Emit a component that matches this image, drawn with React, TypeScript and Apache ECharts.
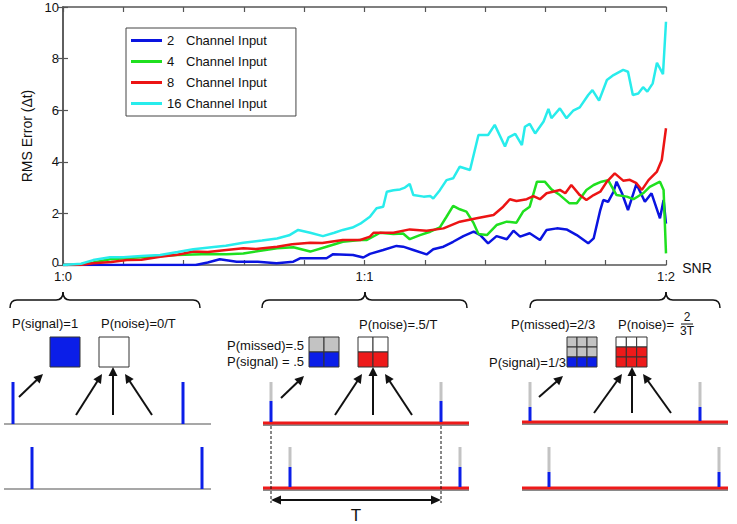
import React, { useEffect, useRef } from 'react';
import * as echarts from 'echarts';

const FONT = 'Liberation Sans, Arial, Helvetica, sans-serif';

// SNR axis: 0..100 maps 1:0 .. 1:2
const snrTickValues = [0, 50, 100];
const snrTickLabels = ['1:0', '1:1', '1:2'];
const channelCounts = ['2', '4', '8', '16'];
const seriesColors = ['#0a14e0', '#1fe01f', '#ec1414', '#28ecec'];

const ch2: number[][] = [[0,0],[22,0],[24,0.1],[26,0.22],[28.8,0.13],[32.3,0.13],[35.4,0.07],[38.2,0.13],[39.3,0.26],[43.7,0.26],[44.8,0.42],[48.1,0.39],[49.8,0.29],[50.9,0.43],[53.1,0.58],[55.3,0.74],[56.4,0.71],[58.1,0.58],[60.3,0.41],[61.4,0.61],[63.1,0.71],[64.7,0.9],[66.4,1.12],[68.1,1.29],[69.2,1.16],[70.5,0.84],[71.9,1.12],[73.6,1.0],[74.7,1.33],[75.8,1.1],[77.4,1.23],[79.1,0.97],[80.2,1.36],[81.9,1.42],[83.5,1.38],[85.2,1.16],[87.1,0.84],[88,1.03],[89.1,2.13],[89.6,2.52],[90.4,2.45],[91.3,2.84],[91.8,3.23],[92.7,2.78],[93.7,2.13],[95.1,3.14],[96.5,2.45],[97.6,2.78],[99,1.81],[99.6,2.52],[100,1.6]];

const ch4: number[][] = [[0,0],[2,0],[5,0.1],[7.8,0.22],[13,0.3],[18.8,0.39],[24.4,0.43],[27.1,0.42],[29.9,0.45],[35.5,0.65],[38.2,0.69],[41,0.52],[43.7,0.71],[46.4,0.9],[49.3,0.97],[50.4,0.97],[52.6,1.25],[54.8,1.2],[56.4,1.22],[57.5,1.0],[59.2,1.16],[60.9,1.29],[62.5,1.46],[63.6,1.87],[64.7,2.29],[65.8,2.16],[66.9,2.07],[68.1,1.62],[68.9,1.2],[70.3,1.16],[71.9,1.55],[73.6,1.68],[75.2,1.64],[76.3,2.07],[77.4,2.26],[78.6,3.23],[79.9,3.23],[81,2.93],[82.4,2.71],[84,2.39],[85.2,2.39],[86.8,2.91],[88,3.1],[89.3,3.23],[90.4,3.29],[91.8,2.71],[93.5,2.65],[94.6,2.55],[96.2,2.78],[97.3,3.03],[99,3.23],[99.6,2.91],[100,0.45]];

const ch8: number[][] = [[0,0],[2.8,0],[5,0.07],[8,0.12],[10.6,0.19],[13,0.2],[16.1,0.32],[19,0.4],[21.6,0.52],[24,0.5],[27.1,0.58],[29.9,0.65],[32,0.62],[35.5,0.71],[38,0.8],[41,0.86],[43,0.85],[46.4,0.97],[49.3,0.97],[50.9,1.1],[51.5,1.25],[54.8,1.25],[57.5,1.38],[60.3,1.33],[63.1,1.42],[65.8,1.68],[68.6,1.81],[71.4,1.94],[73,2.26],[74.1,2.55],[75.2,2.48],[76.9,2.55],[78,2.67],[79.1,2.55],[80.2,2.78],[82.4,2.91],[83.3,2.78],[84.3,3.1],[85.7,2.71],[86.8,2.52],[88,2.71],[89.1,2.84],[90.2,3.23],[91.5,3.55],[92.9,3.27],[94,3.3],[95.1,3.17],[96,2.91],[97.1,3.29],[98.5,3.62],[99.3,4.07],[100,5.3]];

const ch16: number[][] = [[0,0],[3,0.05],[5,0.19],[7.8,0.3],[10,0.3],[13,0.35],[16.1,0.39],[19,0.5],[21.6,0.61],[25,0.7],[27,0.75],[29.9,0.86],[33,0.95],[35.5,1.03],[37.5,1.15],[39,1.36],[41,1.25],[43.1,1.12],[45,1.25],[46.4,1.36],[48,1.45],[49.3,1.6],[50.9,1.87],[52,2.2],[53.1,2.26],[53.7,2.84],[54.8,2.9],[55.9,2.93],[56.7,3.0],[57.5,3.14],[58.1,2.71],[59.8,2.65],[60.9,2.67],[61.4,2.58],[62.5,2.9],[63.6,3.29],[64.7,3.36],[65.8,3.81],[67.5,3.68],[68.9,5.04],[70.5,5.04],[71.6,5.43],[73.3,4.59],[73.9,4.95],[75,5.08],[76.1,4.65],[76.6,5.36],[77.4,5.47],[78.3,5.1],[79.7,5.56],[80.5,6.05],[81,5.69],[82.4,6.07],[83.5,5.69],[84.6,5.98],[85.7,6.11],[87.1,6.59],[87.8,6.78],[88.9,6.37],[90.2,7.17],[91.3,7.36],[92.9,7.56],[93.7,7.49],[94.5,6.59],[95.4,6.65],[96.2,6.89],[96.9,6.72],[97.8,7.04],[98.5,7.84],[99.5,7.4],[100,9.43]];

const seriesData = [ch2, ch4, ch8, ch16];

const BLUE = '#0b1ee8';
const RED = '#ee1a1a';
const GRAY = '#c3c3c3';
const BASE = '#8a8a8a';
const INK = '#111';

function txt(text: string, x: number, y: number, align = 'left', size = 13): any {
  return {
    type: 'text', x, y, silent: true,
    style: { text, fontSize: size, fontFamily: FONT, fill: INK, align, verticalAlign: 'middle', textAlign: align, textVerticalAlign: 'middle' },
  };
}
function ln(x1: number, y1: number, x2: number, y2: number, stroke = INK, lineWidth = 2, dash?: number[]): any {
  return { type: 'line', silent: true, shape: { x1, y1, x2, y2 }, style: { stroke, lineWidth, lineDash: dash } };
}
function rect(x: number, y: number, w: number, h: number, fill: string, stroke?: string, lw = 1): any {
  return { type: 'rect', silent: true, shape: { x, y, width: w, height: h }, style: { fill, stroke: stroke || null, lineWidth: lw } };
}
function head(x1: number, y1: number, x2: number, y2: number, len = 9, half = 4.5): any[] {
  const dx = x2 - x1, dy = y2 - y1, L = Math.hypot(dx, dy);
  const ux = dx / L, uy = dy / L;
  const bx = x2 - ux * len, by = y2 - uy * len;
  const px = -uy, py = ux;
  return [
    ln(x1, y1, bx + ux, by + uy, INK, 2),
    { type: 'polygon', silent: true, shape: { points: [[x2, y2], [bx + px * half, by + py * half], [bx - px * half, by - py * half]] }, style: { fill: INK } },
  ];
}
function brace(x1: number, x2: number, xc: number, yPeak = 292, yH = 300, yEnd = 308): any[] {
  const r = 7;
  const st = { stroke: INK, lineWidth: 1.5, fill: null };
  const bz = (ax: number, ay: number, bx: number, by: number, cx: number, cy: number) => ({
    type: 'bezierCurve', silent: true, shape: { x1: ax, y1: ay, x2: bx, y2: by, cpx1: cx, cpy1: cy }, style: st,
  });
  return [
    bz(x1, yEnd, x1 + r, yH, x1, yH),
    ln(x1 + r, yH, xc - r, yH, INK, 1.5),
    bz(xc - r, yH, xc, yPeak, xc, yH),
    bz(xc, yPeak, xc + r, yH, xc, yH),
    ln(xc + r, yH, x2 - r, yH, INK, 1.5),
    bz(x2 - r, yH, x2, yEnd, x2, yH),
  ];
}
function cells(x: number, y: number, w: number, h: number, cols: number, rowFills: string[]): any[] {
  const out: any[] = [];
  const rows = rowFills.length;
  const cw = w / cols, ch = h / rows;
  for (let r = 0; r < rows; r++) {
    for (let c = 0; c < cols; c++) {
      out.push(rect(x + c * cw, y + r * ch, cw, ch, rowFills[r], '#333', 1));
    }
  }
  return out;
}
function spike(x: number, yTop: number, yMid: number, yBot: number): any[] {
  const out: any[] = [];
  if (yMid > yTop) out.push(rect(x - 1.5, yTop, 3, yMid - yTop, GRAY));
  out.push(rect(x - 1.5, yMid, 3, yBot - yMid, BLUE));
  return out;
}
function redBase(x1: number, x2: number, y: number): any[] {
  return [rect(x1, y - 1, x2 - x1, 4, BASE), rect(x1, y - 1.5, x2 - x1, 3, RED)];
}

function buildDiagram(): any[] {
  const g: any[] = [];
  // panel 1
  g.push(...brace(10, 200, 63));
  g.push(txt('P(signal)=1', 12, 323), txt('P(noise)=0/T', 101, 323));
  g.push(rect(50, 337, 30, 30, BLUE, '#333', 1), rect(99, 337, 30, 30, '#fff', '#333', 1));
  g.push(...head(19, 397, 43, 374), ...head(76, 415, 102, 374), ...head(113, 415, 113, 367), ...head(152, 415, 125, 374));
  g.push(ln(4, 424, 211, 424, BASE, 1.5), ln(4, 489, 211, 489, BASE, 1.5));
  g.push(...spike(13, 382, 382, 424), ...spike(183, 382, 382, 424), ...spike(32, 447, 447, 489), ...spike(202, 447, 447, 489));

  // panel 2
  g.push(...brace(262, 467, 365));
  g.push(txt('P(noise)=.5/T', 359, 324));
  g.push(txt('P(missed)=.5', 304, 345, 'right'), txt('P(signal) = .5', 304, 361, 'right'));
  g.push(...cells(309, 337, 30, 30, 2, [GRAY, BLUE]));
  g.push(...cells(358, 337, 30, 30, 2, ['#fff', RED]));
  g.push(...head(281, 398, 304, 376), ...head(335, 415, 362, 374), ...head(373, 415, 373, 367), ...head(412, 415, 385, 374));
  g.push(...redBase(263, 469, 423), ...redBase(263, 469, 488));
  g.push(...spike(271, 382, 401, 422), ...spike(441, 382, 401, 422), ...spike(290, 447, 467, 487), ...spike(460, 447, 467, 487));
  g.push(ln(271, 426, 271, 503, INK, 1, [3, 2]), ln(441, 426, 441, 503, INK, 1, [3, 2]));
  g.push(...head(356, 500, 271, 500, 10, 4.5), ...head(356, 500, 441, 500, 10, 4.5));
  g.push(txt('T', 356, 515, 'center', 17));

  // panel 3
  g.push(...brace(530, 720, 666));
  g.push(txt('P(missed)=2/3', 511, 324), txt('P(noise)=', 618, 324));
  g.push(txt('2', 687, 317, 'center', 12), ln(681, 324, 693, 324, INK, 1), txt('3T', 687, 331, 'center', 12));
  g.push(txt('P(signal)=1/3', 566, 362, 'right'));
  g.push(...cells(567, 337, 30, 30, 3, [GRAY, GRAY, BLUE]));
  g.push(...cells(616, 337, 31, 30, 3, ['#fff', RED, RED]));
  g.push(...head(539, 397, 563, 376), ...head(594, 413, 622, 374), ...head(632, 413, 632, 367), ...head(671, 413, 643, 374));
  g.push(...redBase(522, 728, 422), ...redBase(522, 728, 488));
  g.push(...spike(530, 382, 407, 421), ...spike(700, 382, 407, 421), ...spike(549, 447, 472, 487), ...spike(719, 447, 472, 487));

  // SNR label
  g.push(txt('SNR', 697, 268, 'center', 14));
  return g;
}

export default function App() {
  const ref = useRef<HTMLDivElement>(null);
  useEffect(() => {
    if (!ref.current) return;
    const chart = echarts.init(ref.current, undefined, { renderer: 'svg' });
    const axisColor = '#555';
    const snrLabel = (v: number) => {
      const i = snrTickValues.indexOf(Math.round(v));
      return i >= 0 ? snrTickLabels[i] : '';
    };
    const xBase = {
      type: 'value', min: 0, max: 100, interval: 10,
      axisLine: { show: true, onZero: false, lineStyle: { color: axisColor, width: 1.5 } },
      axisTick: { show: true, inside: true, length: 5, lineStyle: { color: axisColor, width: 1.2 } },
      splitLine: { show: false },
    };
    const yBase = {
      type: 'value', min: 0, max: 10, interval: 2,
      axisLine: { show: true, lineStyle: { color: axisColor, width: 1.5 } },
      axisTick: { show: true, inside: true, length: 5, lineStyle: { color: axisColor, width: 1.2 } },
      splitLine: { show: false },
    };
    chart.setOption({
      animation: false,
      backgroundColor: '#fff',
      textStyle: { fontFamily: FONT },
      grid: { left: 63, right: 71, top: 7, bottom: 259 },
      xAxis: [
        { ...xBase, position: 'bottom', axisLabel: { formatter: snrLabel, fontSize: 13, color: INK, margin: 5, fontFamily: FONT } },
        { ...xBase, position: 'top', axisLabel: { show: false } },
      ],
      yAxis: [
        {
          ...yBase, position: 'left',
          axisLabel: {
            fontSize: 13, color: INK, margin: 4, fontFamily: FONT,
            formatter: (v: number) => (v === 0 ? '{z|0}' : String(v)),
            rich: { z: { fontSize: 13, fontFamily: FONT, color: INK, padding: [0, 0, 6, 0] } },
          },
          name: 'RMS Error (Δt)', nameLocation: 'middle', nameGap: 26,
          nameTextStyle: { fontSize: 14, color: INK, fontFamily: FONT },
        },
        { ...yBase, position: 'right', axisLabel: { show: false } },
      ],
      legend: {
        orient: 'vertical', left: 126, top: 28,
        padding: [6, 29, 6, 5], itemGap: 8, itemWidth: 31, itemHeight: 3,
        icon: 'rect',
        backgroundColor: '#fff', borderColor: '#444', borderWidth: 1,
        data: channelCounts.map((c) => `${c} Channel Input`),
        formatter: (name: string) => `{n|${name.split(' ')[0]}}{t|Channel Input}`,
        textStyle: {
          fontSize: 13, color: INK, fontFamily: FONT,
          rich: {
            n: { width: 19, fontSize: 13, lineHeight: 13, fontFamily: FONT, color: INK },
            t: { fontSize: 13, lineHeight: 13, fontFamily: FONT, color: INK },
          },
        },
      },
      series: seriesData.map((d, i) => ({
        type: 'line',
        name: `${channelCounts[i]} Channel Input`,
        data: d,
        symbol: 'none',
        color: seriesColors[i],
        lineStyle: { width: 2.5, color: seriesColors[i] },
        z: 2 + i,
      })),
      graphic: { elements: buildDiagram() },
    });
    return () => chart.dispose();
  }, []);
  return <div ref={ref} style={{ position: 'fixed', left: 0, top: 0, width: 737, height: 524, background: '#fff' }} />;
}
